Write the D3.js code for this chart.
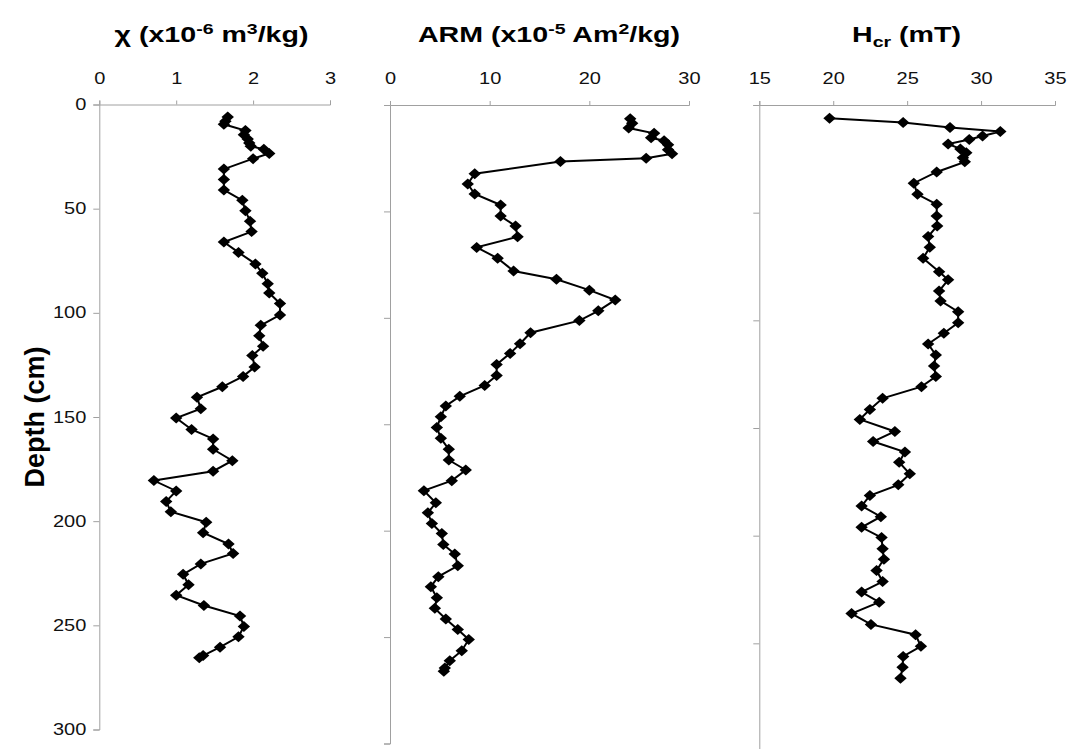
<!DOCTYPE html>
<html>
<head>
<meta charset="utf-8">
<script src="https://cdn.jsdelivr.net/npm/d3@7"></script>
<style>
  body { margin: 0; background: #fff; }
  text { font-family: Arial, "Liberation Sans", sans-serif; }
</style>
</head>
<body>
<div id="vis"></div>
<script>
const width = 1068;
const height = 749;

// Data (depth in cm)
const chiDepth = [6, 8, 9.5, 12.5, 14.5, 16.5, 18.5, 20, 21.5, 23.5, 26, 31, 36, 41, 46, 51, 56, 61, 66, 71,
  76.5, 81, 86, 90.5, 95.5, 101, 106, 111, 116, 120.5, 126, 130.5, 135.5, 140.5, 146, 150.5, 156, 160.5, 165.5, 171,
  176, 180.5, 185.5, 190.5, 195.5, 200.5, 205.5, 211, 215.5, 220.5, 225.5, 230.5, 235.5, 240.5, 245.5, 250.5, 255.5, 260.5, 264.5, 265.5];
const chiValues = [1.67, 1.64, 1.62, 1.90, 1.88, 1.93, 1.95, 1.97, 2.14, 2.21, 2.00, 1.62, 1.62, 1.62, 1.86, 1.90, 1.96, 1.98, 1.62, 1.81,
  2.03, 2.12, 2.19, 2.21, 2.35, 2.35, 2.10, 2.08, 2.13, 1.99, 2.02, 1.87, 1.60, 1.27, 1.32, 1.00, 1.20, 1.48, 1.48, 1.73,
  1.48, 0.71, 1.00, 0.87, 0.93, 1.39, 1.35, 1.68, 1.74, 1.32, 1.09, 1.16, 1.00, 1.36, 1.83, 1.88, 1.81, 1.57, 1.35, 1.30];

const armDepth = [6.5, 8.6, 10.8, 13.3, 15.4, 16.8, 18.7, 21, 22.9, 25, 26.6, 32.3, 37.1, 41.8, 47, 52.2, 56.9, 61.9, 66.9, 72,
  78, 81.9, 87, 91.6, 96.7, 101.3, 107, 112.2, 116.7, 121.9, 127.1, 131.8, 136.9, 141.4, 146.5, 151.5, 156.6, 161.8, 166.8, 171.5,
  176.5, 181.2, 186.9, 191.6, 196.6, 201.3, 206.5, 211, 216.5, 221.6, 226.3, 231.5, 236.5, 241.5, 246.4, 251.1, 256.4, 261.1, 264.5, 266];
const armValues = [24.1, 24.3, 23.95, 26.5, 26.2, 27.5, 27.9, 27.9, 28.3, 25.7, 17.1, 8.5, 7.8, 8.5, 11.1, 11.1, 12.6, 12.8, 8.7, 10.8,
  12.4, 16.7, 20.0, 22.6, 20.9, 19.0, 14.1, 13.05, 12.05, 10.7, 10.7, 9.5, 7.0, 5.6, 5.1, 4.7, 5.1, 5.9, 5.9, 7.6,
  6.2, 3.4, 4.6, 3.8, 4.2, 5.2, 5.35, 6.5, 6.8, 4.85, 4.1, 4.7, 4.5, 5.6, 6.8, 7.9, 7.2, 6.0, 5.5, 5.4];

const hcrDepth = [6.2, 8.1, 10.4, 12.3, 14.4, 16, 18.1, 20.4, 22.2, 24.5, 26.4, 31.1, 36.3, 41.5, 46.1, 51.5, 56.2, 61.1, 66.1, 71.2,
  77.4, 81.2, 86.4, 91, 96, 101.1, 106, 111, 116.1, 121.2, 126.1, 130.8, 136.2, 141.4, 146, 151.6, 156.3, 161.2, 165.9, 171.3,
  176.4, 181.4, 186.2, 191.2, 196.1, 200.9, 206.1, 210.9, 216.2, 221.3, 226.2, 230.9, 236.2, 241.2, 246, 251.4, 256.1, 261.1, 266.2];
const hcrValues = [19.75, 24.73, 27.9, 31.3, 30.1, 29.2, 27.77, 28.6, 29.0, 28.77, 28.9, 27.0, 25.45, 25.7, 27.0, 27.0, 27.03, 26.42, 26.53, 26.08,
  27.16, 27.77, 27.16, 27.26, 28.45, 28.45, 27.48, 26.42, 26.94, 26.82, 26.94, 25.97, 23.34, 22.48, 21.8, 24.17, 22.7, 24.85, 24.46, 25.18,
  24.4, 22.48, 21.92, 23.22, 21.92, 23.27, 23.34, 23.43, 22.93, 23.34, 21.92, 23.11, 21.24, 22.55, 25.57, 25.93, 24.73, 24.69, 24.55];

const depthTicks = [0, 50, 100, 150, 200, 250, 300];
const chiTicks = [0, 1, 2, 3];
const armTicks = [0, 10, 20, 30];
const hcrTicks = [15, 20, 25, 30, 35];

const svg = d3.select("#vis").append("svg")
  .attr("width", width)
  .attr("height", height);

// the scanned figure is a bit wider than tall, so text is stretched sideways
const stretch = 1.25;

// one panel per property
const panels = [
  { depth: chiDepth, values: chiValues, domain: [0, 3], ticks: chiTicks, xr: [99.3, 330], yr: [104.5, 729.5], labels: true },
  { depth: armDepth, values: armValues, domain: [0, 30], ticks: armTicks, xr: [390, 689], yr: [105, 743.5], labels: false },
  { depth: hcrDepth, values: hcrValues, domain: [15, 35], ticks: hcrTicks, xr: [759.3, 1055], yr: [105, 751], labels: false }
];

const diamond = "M0,-5.5L6.2,0L0,5.5L-6.2,0Z";

panels.forEach(p => {
  const x = d3.scaleLinear().domain(p.domain).range(p.xr);
  const y = d3.scaleLinear().domain([0, 300]).range(p.yr);
  const g = svg.append("g");

  const yAxis = d3.axisLeft(y).tickValues(depthTicks).tickSize(6).tickPadding(7)
    .tickFormat(p.labels ? d3.format("d") : "");
  const gy = g.append("g")
    .attr("transform", `translate(${p.xr[0]},0)`)
    .call(yAxis);

  const xAxis = d3.axisTop(x).tickValues(p.ticks).tickSize(4).tickPadding(17)
    .tickFormat(d3.format("d"));
  const gx = g.append("g")
    .attr("transform", `translate(0,${p.yr[0]})`)
    .call(xAxis);

  [gx, gy].forEach(a => {
    a.selectAll("path, line").attr("stroke", "#a0a0a0").attr("stroke-width", 1);
    a.selectAll("text").attr("fill", "#111").style("font-size", "16px")
      .attr("transform", `scale(${stretch},1)`);
  });
  gy.selectAll("text").attr("x", -13 / stretch);

  const pts = p.depth.map((d, i) => [p.values[i], d]);

  g.append("path")
    .datum(pts)
    .attr("fill", "none")
    .attr("stroke", "#000")
    .attr("stroke-width", 2)
    .attr("d", d3.line().x(d => x(d[0])).y(d => y(d[1])));

  g.selectAll(".pt")
    .data(pts)
    .enter().append("path")
    .attr("class", "pt")
    .attr("d", diamond)
    .attr("fill", "#000")
    .attr("transform", d => `translate(${x(d[0])},${y(d[1])})`);
});

// Titles
function title(cx, sx) {
  return svg.append("g")
    .attr("transform", `translate(${cx},42) scale(${sx},1)`)
    .append("text")
    .attr("text-anchor", "middle")
    .style("font-size", "22px")
    .style("font-weight", "bold");
}

const t1 = title(211.5, 1.3);
t1.append("tspan").text("χ (x10");
t1.append("tspan").attr("dy", -8).style("font-size", "15px").text("-6");
t1.append("tspan").attr("dy", 8).text(" m");
t1.append("tspan").attr("dy", -8).style("font-size", "15px").text("3");
t1.append("tspan").attr("dy", 8).text("/kg)");

const t2 = title(549, 1.3);
t2.append("tspan").text("ARM (x10");
t2.append("tspan").attr("dy", -8).style("font-size", "15px").text("-5");
t2.append("tspan").attr("dy", 8).text(" Am");
t2.append("tspan").attr("dy", -8).style("font-size", "15px").text("2");
t2.append("tspan").attr("dy", 8).text("/kg)");

const t3 = title(906.5, 1.3);
t3.append("tspan").text("H");
t3.append("tspan").attr("dy", 5).style("font-size", "15px").text("cr");
t3.append("tspan").attr("dy", -5).text(" (mT)");

// Depth label
svg.append("text")
  .attr("transform", "translate(44,417) rotate(-90)")
  .attr("text-anchor", "middle")
  .style("font-size", "27px")
  .style("font-weight", "bold")
  .text("Depth (cm)");
</script>
</body>
</html>
